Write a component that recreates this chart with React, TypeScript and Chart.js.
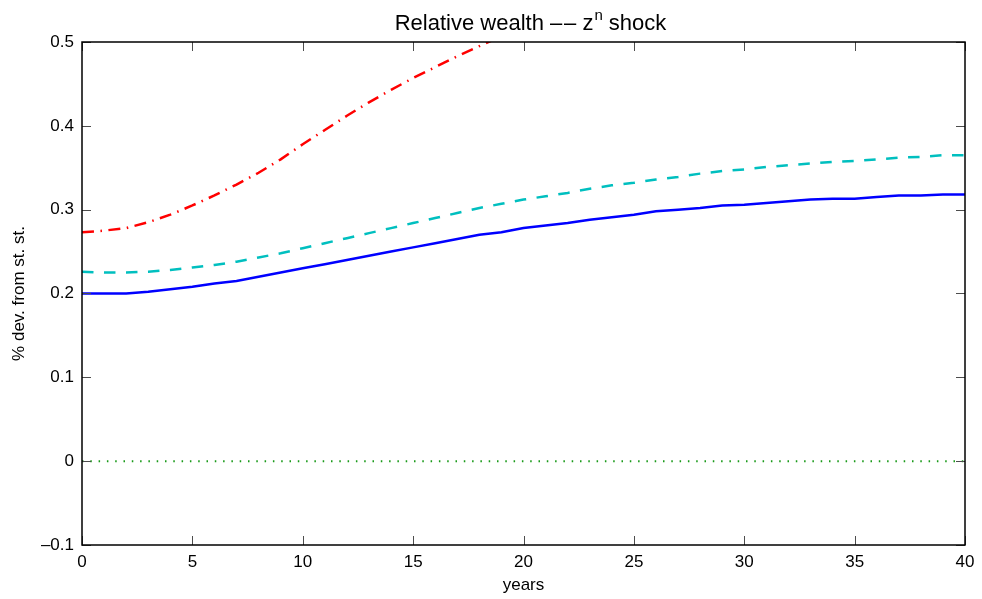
import { useEffect, useRef } from 'react';
import { Chart, registerables } from 'chart.js';

Chart.register(...registerables);

// Horizon in years
const years = [
  0, 1, 2, 3, 4, 5, 6, 7, 8, 9, 10, 11, 12, 13, 14, 15, 16, 17, 18, 19, 20,
  21, 22, 23, 24, 25, 26, 27, 28, 29, 30, 31, 32, 33, 34, 35, 36, 37, 38, 39, 40,
];

// Relative wealth responses (% deviation from steady state)
const wealthSolid = [
  0.200, 0.200, 0.200, 0.202, 0.205, 0.208, 0.212, 0.215, 0.220, 0.225, 0.230,
  0.235, 0.240, 0.245, 0.250, 0.255, 0.260, 0.265, 0.270, 0.273, 0.278,
  0.281, 0.284, 0.288, 0.291, 0.294, 0.298, 0.300, 0.302, 0.305, 0.306,
  0.308, 0.310, 0.312, 0.313, 0.313, 0.315, 0.317, 0.317, 0.318, 0.318,
];

const wealthDashed = [
  0.226, 0.225, 0.225, 0.226, 0.228, 0.231, 0.234, 0.238, 0.243, 0.248, 0.254,
  0.260, 0.266, 0.272, 0.278, 0.284, 0.290, 0.296, 0.302, 0.307, 0.312,
  0.316, 0.320, 0.325, 0.329, 0.332, 0.336, 0.339, 0.343, 0.346, 0.348,
  0.351, 0.353, 0.355, 0.357, 0.358, 0.360, 0.362, 0.363, 0.365, 0.365,
];

const wealthDashDot = [
  0.273, 0.275, 0.278, 0.285, 0.294, 0.305, 0.317, 0.330, 0.344, 0.360, 0.378,
  0.395, 0.412, 0.428, 0.443, 0.457, 0.470, 0.483, 0.495, 0.507, 0.518,
  0.528, 0.537, 0.545, 0.552, 0.558, 0.563, 0.568, 0.572, 0.575, 0.578,
  0.580, 0.582, 0.584, 0.586, 0.587, 0.588, 0.589, 0.590, 0.591, 0.591,
];

// Zero reference line endpoints
const zeroYears = [0, 40];
const zeroValues = [0, 0];

const xTicks = [0, 5, 10, 15, 20, 25, 30, 35, 40];
const yTicks = [-0.1, 0, 0.1, 0.2, 0.3, 0.4, 0.5];

const FONT = '"Liberation Sans", Arial, Helvetica, sans-serif';

const toPoints = (xs: number[], ys: number[]) => xs.map((x, i) => ({ x, y: ys[i] }));

const formatY = (v: number) => {
  if (Math.abs(v) < 1e-9) return '0';
  return (v < 0 ? '\u2013' : '') + Math.abs(v).toFixed(1);
};

// Box around the axes with inward tick marks on all four sides, plus the title
const axesBoxPlugin = {
  id: 'axesBox',
  afterDatasetsDraw(chart: any) {
    const { ctx, chartArea: a, scales } = chart;
    const len = 9;
    ctx.save();
    ctx.strokeStyle = '#4d4d4d';
    ctx.lineWidth = 1;
    ctx.beginPath();
    for (const v of xTicks) {
      const px = Math.round(scales.x.getPixelForValue(v)) + 0.5;
      ctx.moveTo(px, a.bottom);
      ctx.lineTo(px, a.bottom - len);
      ctx.moveTo(px, a.top);
      ctx.lineTo(px, a.top + len);
    }
    for (const v of yTicks) {
      const py = Math.round(scales.y.getPixelForValue(v)) + 0.5;
      ctx.moveTo(a.left, py);
      ctx.lineTo(a.left + len, py);
      ctx.moveTo(a.right, py);
      ctx.lineTo(a.right - len, py);
    }
    ctx.stroke();

    ctx.strokeStyle = '#000';
    ctx.lineWidth = 1.5;
    ctx.strokeRect(a.left, a.top, a.right - a.left, a.bottom - a.top);

    // Title with a superscript n
    const main = `22px ${FONT}`;
    const sup = `15px ${FONT}`;
    const partA = 'Relative wealth \u2013\u200a\u2013 z';
    const partB = 'n';
    const partC = ' shock';
    ctx.fillStyle = '#000';
    ctx.textBaseline = 'alphabetic';
    ctx.textAlign = 'left';
    ctx.font = main;
    const wA = ctx.measureText(partA).width;
    const wC = ctx.measureText(partC).width;
    ctx.font = sup;
    const wB = ctx.measureText(partB).width;
    const total = wA + wB + wC + 1;
    const cx = (a.left + a.right) / 2 + 7;
    let x = cx - total / 2;
    const baseY = 30;
    ctx.font = main;
    ctx.fillText(partA, x, baseY);
    x += wA + 1;
    ctx.font = sup;
    ctx.fillText(partB, x, baseY - 10);
    x += wB;
    ctx.font = main;
    ctx.fillText(partC, x, baseY);
    ctx.restore();
  },
};

export default function App() {
  const canvasRef = useRef<HTMLCanvasElement | null>(null);

  useEffect(() => {
    const canvas = canvasRef.current;
    if (!canvas) return;

    const chart = new Chart(canvas, {
      type: 'line',
      data: {
        datasets: [
          {
            data: toPoints(zeroYears, zeroValues),
            borderColor: '#1a9a1a',
            borderWidth: 2,
            borderDash: [1.5, 6.8],
            pointRadius: 0,
          },
          {
            data: toPoints(years, wealthSolid),
            borderColor: '#0000ff',
            borderWidth: 2.5,
            pointRadius: 0,
          },
          {
            data: toPoints(years, wealthDashed),
            borderColor: '#00bfbf',
            borderWidth: 2.5,
            borderDash: [11.5, 10.5],
            pointRadius: 0,
          },
          {
            data: toPoints(years, wealthDashDot),
            borderColor: '#ff0000',
            borderWidth: 2.5,
            borderDash: [12, 6.5, 1.5, 6.5],
            pointRadius: 0,
          },
        ],
      },
      options: {
        animation: false,
        responsive: false,
        devicePixelRatio: 1,
        layout: { padding: { top: 42, right: 17, left: 0, bottom: 0 } },
        plugins: {
          legend: { display: false },
          tooltip: { enabled: false },
          title: { display: false },
        },
        elements: { line: { tension: 0 } },
        scales: {
          x: {
            type: 'linear',
            min: 0,
            max: 40,
            grid: { display: false, drawTicks: false, drawOnChartArea: false },
            border: { display: false },
            afterBuildTicks: (scale: any) => {
              scale.ticks = xTicks.map((value) => ({ value }));
            },
            afterFit: (scale: any) => {
              scale.height = 54;
            },
            ticks: {
              color: '#000',
              padding: 7,
              maxRotation: 0,
              font: { family: FONT, size: 17 },
              callback: (v: any) => String(v),
            },
            title: {
              display: true,
              text: 'years',
              color: '#000',
              font: { family: FONT, size: 17 },
              padding: { top: 0, bottom: 3 },
            },
          },
          y: {
            type: 'linear',
            min: -0.1,
            max: 0.5,
            grid: { display: false, drawTicks: false, drawOnChartArea: false },
            border: { display: false },
            afterBuildTicks: (scale: any) => {
              scale.ticks = yTicks.map((value) => ({ value }));
            },
            afterFit: (scale: any) => {
              scale.width = 82;
            },
            ticks: {
              color: '#000',
              padding: 8,
              font: { family: FONT, size: 17 },
              callback: (v: any) => formatY(Number(v)),
            },
            title: {
              display: true,
              text: '% dev. from st. st.',
              color: '#000',
              font: { family: FONT, size: 17 },
              padding: { top: 9, bottom: 0 },
            },
          },
        },
      },
      plugins: [axesBoxPlugin],
    });

    return () => chart.destroy();
  }, []);

  return (
    <div style={{ position: 'fixed', left: 0, top: 0, width: 982, height: 599, background: '#fff' }}>
      <canvas ref={canvasRef} width={982} height={599} />
    </div>
  );
}
